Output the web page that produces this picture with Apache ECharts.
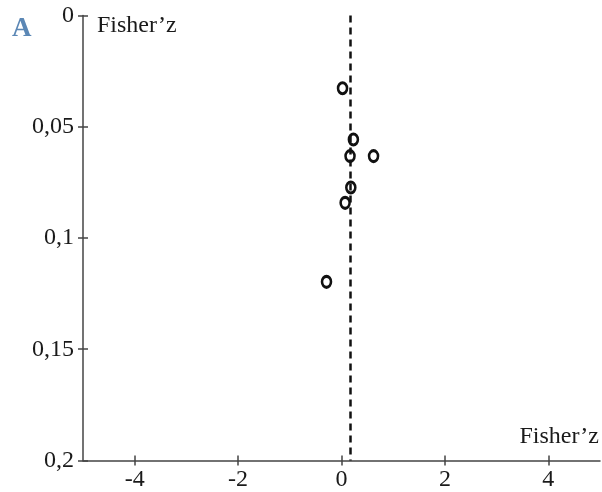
<!DOCTYPE html>
<html>
<head>
<meta charset="utf-8">
<script src="https://cdn.jsdelivr.net/npm/echarts@6/dist/echarts.min.js"></script>
<style>
  html, body { margin: 0; padding: 0; background: #fff; }
  #main { width: 602px; height: 492px; }
</style>
</head>
<body>
<div id="main"></div>
<script>
// Fisher's z effect sizes vs standard error (funnel plot)
const effectZ = [0.02, 0.23, 0.165, 0.62, 0.18, 0.07, -0.29];
const stdErr = [0.0327, 0.0557, 0.0632, 0.0632, 0.0773, 0.0842, 0.1197];
const pooledZ = 0.17;
const xTicks = [-4, -2, 0, 2, 4];

const font = 'Liberation Serif';
const axisColor = '#444';

const points = effectZ.map((z, i) => [z, stdErr[i]]);

const fmtY = v => String(Math.round(v * 100) / 100).replace('.', ',');

const chart = echarts.init(document.getElementById('main'));

const baseY = {
  type: 'value',
  min: 0,
  max: 0.2,
  interval: 0.05,
  inverse: true,
  splitLine: { show: false }
};
const baseX = {
  type: 'value',
  min: -5,
  max: 5,
  splitLine: { show: false }
};

chart.setOption({
  animation: false,
  grid: { left: 83, right: 2, top: 15.5, bottom: 31.5 },
  xAxis: [
    Object.assign({}, baseX, {
      position: 'bottom',
      axisLine: { show: true, onZero: false, lineStyle: { color: axisColor, width: 1.5 } },
      axisTick: { show: true, length: 5, customValues: xTicks, lineStyle: { color: axisColor, width: 1.5 } },
      axisLabel: { customValues: xTicks, margin: 7, color: '#1a1a1a', fontFamily: font, fontSize: 24 }
    }),
    Object.assign({}, baseX, {
      position: 'bottom',
      axisLine: { show: false, onZero: false },
      axisTick: { show: true, inside: true, length: 5, customValues: xTicks, lineStyle: { color: axisColor, width: 1.5 } },
      axisLabel: { show: false }
    })
  ],
  yAxis: [
    Object.assign({}, baseY, {
      position: 'left',
      axisLine: { show: true, onZero: false, lineStyle: { color: axisColor, width: 1.5 } },
      axisTick: { show: true, length: 5, lineStyle: { color: axisColor, width: 1.5 } },
      axisLabel: { margin: 9, color: '#1a1a1a', fontFamily: font, fontSize: 24, formatter: fmtY }
    }),
    Object.assign({}, baseY, {
      position: 'left',
      axisLine: { show: false, onZero: false },
      axisTick: { show: true, inside: true, length: 5, lineStyle: { color: axisColor, width: 1.5 } },
      axisLabel: { show: false }
    })
  ],
  series: [{
    type: 'scatter',
    data: points,
    symbol: 'circle',
    symbolSize: [9, 11],
    itemStyle: { color: 'rgba(255,255,255,0)', borderColor: '#111', borderWidth: 2.8, opacity: 1 },
    markLine: {
      silent: true,
      symbol: 'none',
      label: { show: false },
      lineStyle: { color: '#111', width: 2.5, type: [7, 5] },
      data: [{ xAxis: pooledZ }]
    }
  }],
  graphic: [
    {
      type: 'text', left: 12, top: 16,
      style: { text: 'A', fontFamily: font, fontSize: 27, fontWeight: 'bold', fill: '#5b87b5' }
    },
    {
      type: 'text', left: 97, top: 14,
      style: { text: 'Fisher’z', fontFamily: font, fontSize: 24, fill: '#1a1a1a' }
    },
    {
      type: 'text', right: 3, top: 425,
      style: { text: 'Fisher’z', fontFamily: font, fontSize: 24, fill: '#1a1a1a' }
    }
  ]
});

window.onresize = () => {
  chart.resize();
};
</script>
</body>
</html>
